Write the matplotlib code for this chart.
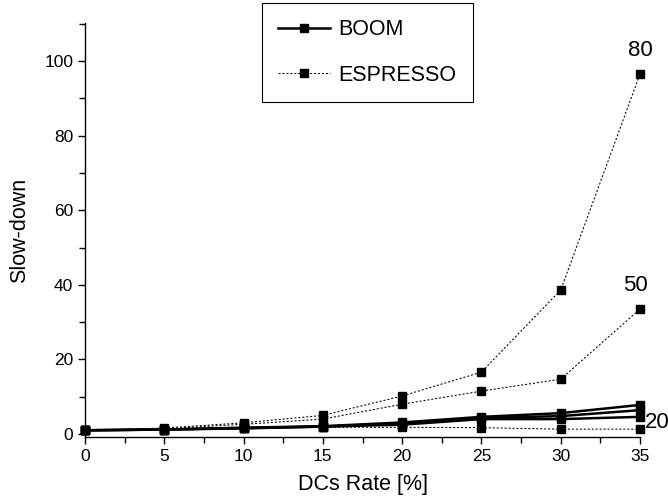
import matplotlib
matplotlib.use("Agg")
import matplotlib.pyplot as plt
from matplotlib.ticker import MultipleLocator

rates = [0, 5, 10, 15, 20, 25, 30, 35]

boom_20 = [1.0, 1.2, 1.5, 2.0, 2.5, 4.0, 4.0, 4.6]
boom_50 = [1.0, 1.2, 1.6, 2.0, 2.8, 4.3, 4.8, 6.4]
boom_80 = [1.0, 1.2, 1.7, 2.1, 3.1, 4.6, 5.6, 7.8]

esp_20 = [1.0, 1.2, 1.5, 1.8, 1.8, 1.7, 1.3, 1.3]
esp_50 = [1.0, 1.4, 2.6, 4.0, 8.0, 11.5, 14.7, 33.5]
esp_80 = [1.0, 1.6, 3.0, 5.0, 10.2, 16.6, 38.6, 96.5]

end_labels = ["20", "50", "80"]

plt.rcParams['font.family'] = ['Liberation Sans', 'DejaVu Sans']

fig = plt.figure(figsize=(6.68, 5.0), dpi=100)
ax = fig.add_axes([85/668, 63/500, 555/668, 414/500])

ESP_LS = (0, (2.0, 1.8))
for s in [boom_20, boom_50, boom_80]:
    ax.plot(rates, s, color='black', lw=1.8, marker='s', ms=6, clip_on=False, zorder=3)
for s in [esp_20, esp_50, esp_80]:
    ax.plot(rates, s, color='black', lw=0.75, ls=ESP_LS, marker='s', ms=6,
            clip_on=False, zorder=3)

# legend proxies
hb, = ax.plot([], [], color='black', lw=1.8, marker='s', ms=6)
he, = ax.plot([], [], color='black', lw=0.75, ls=ESP_LS, marker='s', ms=6)
leg = fig.legend([hb, he], ["BOOM", "ESPRESSO"], loc='upper left',
                 bbox_to_anchor=(262/668, 1 - 3/500), bbox_transform=fig.transFigure,
                 fontsize=15.5, handlelength=2.4, numpoints=1, fancybox=False,
                 edgecolor='black', framealpha=1, borderpad=0.75, labelspacing=1.15,
                 handletextpad=0.4, borderaxespad=0)
leg.get_frame().set_linewidth(0.8)

ax.text(35, esp_80[-1] + 3.5, end_labels[2], ha='center', va='bottom', fontsize=16, clip_on=False)
ax.text(34.7, esp_50[-1] + 3.5, end_labels[1], ha='center', va='bottom', fontsize=16, clip_on=False)
ax.text(35.3, boom_20[-1] - 4.2, end_labels[0], ha='left', va='bottom', fontsize=16, clip_on=False)

ax.set_xlim(0, 35)
ax.set_ylim(-0.8, 110.2)
ax.xaxis.set_major_locator(MultipleLocator(5))
ax.xaxis.set_minor_locator(MultipleLocator(2.5))
ax.yaxis.set_minor_locator(MultipleLocator(10))
ax.set_yticks([0, 20, 40, 60, 80, 100])

for side in ['top', 'right']:
    ax.spines[side].set_visible(False)
for side in ['left', 'bottom']:
    ax.spines[side].set_linewidth(1.0)
ax.tick_params(which='both', direction='out', width=1.0, labelsize=12.5)
ax.tick_params(which='major', length=5)
ax.tick_params(which='minor', length=4)

ax.set_xlabel("DCs Rate [%]", fontsize=15.5, labelpad=7)
ax.set_ylabel("Slow-down", fontsize=15.5, labelpad=10)

fig.savefig("out.png", dpi=100)
